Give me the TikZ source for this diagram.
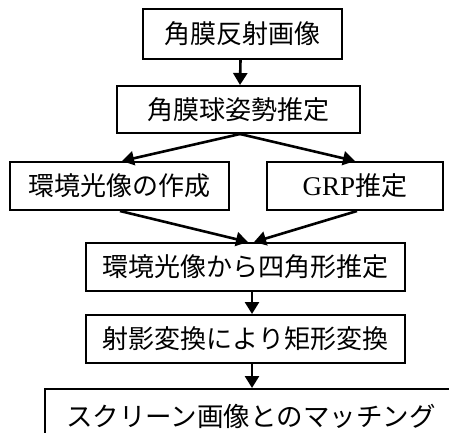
\documentclass[tikz,border=0pt]{standalone}
\usepackage{fontspec}
\setmainfont{Liberation Serif}
\newfontfamily\jp{Noto Sans CJK JP}
\usetikzlibrary{arrows.meta,calc}
\begin{document}
\begin{tikzpicture}[x=1pt,y=1pt,
  box/.style={draw=black,line width=2pt,rectangle,inner sep=0pt,align=center,
    font=\jp\fontsize{26}{30}\selectfont},
  arr/.style={line width=2.6pt,-{Triangle[width=14pt,length=12pt]}}]
\clip (0,0) rectangle (449,-432);
\fill[white] (0,0) rectangle (449,-432);
\node[box,minimum width=199pt,minimum height=50pt] (b1) at (242.5,-34) {角膜反射画像};
\node[box,minimum width=243pt,minimum height=47pt] (b2) at (238.5,-109.5) {角膜球姿勢推定};
\node[box,minimum width=219pt,minimum height=48pt] (b3) at (119.5,-186) {環境光像の作成};
\node[box,minimum width=176pt,minimum height=48pt] (b4) at (355,-186) {{\rmfamily\fontsize{27}{30}\selectfont GRP}推定};
\node[box,minimum width=319pt,minimum height=48pt] (b5) at (245.5,-267) {環境光像から四角形推定};
\node[box,minimum width=319pt,minimum height=48pt] (b6) at (245.5,-339) {射影変換により矩形変換};
\node[box,minimum width=412pt,minimum height=58pt] (b7) at (251,-418) {\raisebox{6pt}{\fontsize{26.5}{30}\selectfont スクリーン画像とのマッチング}};
\draw[arr] ($(b1.south)+(-2,0)$) -- ($(b2.north)+(1.5,0)$);
\draw[arr] ($(b2.south)+(1.5,0)$) -- ($(b3.north)+(2.5,0)$);
\draw[arr] ($(b2.south)+(1.5,0)$) -- (b4.north);
\draw[arr] ($(b3.south)+(0.5,0)$) -- ($(b5.north)+(2.5,0)$);
\draw[arr] ($(b4.south)+(2,0)$) -- ($(b5.north)+(8.5,0)$);
\draw[arr] ($(b5.south)+(6.5,0)$) -- ($(b6.north)+(6.5,0)$);
\draw[arr] ($(b6.south)+(6.5,0)$) -- ($(b7.north)+(1,0)$);
\end{tikzpicture}
\end{document}
